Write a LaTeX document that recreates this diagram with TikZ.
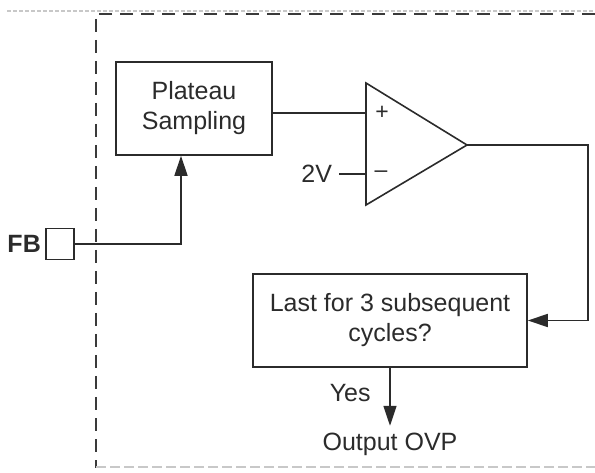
\documentclass[tikz,border=0pt]{standalone}
\usepackage{fontspec}
\setmainfont{Liberation Sans}
\usepackage{xcolor}
\usepackage{tikz}
\usetikzlibrary{arrows.meta,positioning}
\definecolor{ink}{HTML}{2B2B2B}
\definecolor{framegray}{HTML}{3A3A3A}
\definecolor{fadegray}{HTML}{C8C8C8}
\tikzset{
  arr/.style={-{Triangle[length=10pt,width=6.5pt]},line width=0.8pt,draw=ink},
  wire/.style={line width=0.8pt,draw=ink},
  box/.style={rectangle,draw=ink,line width=0.8pt,align=center,
    text=ink,font=\fontsize{12.5}{15}\selectfont},
  lbl/.style={text=ink,font=\fontsize{12.5}{15}\selectfont},
  sgn/.style={text=ink,font=\fontsize{11.5}{13}\selectfont},
  frm/.style={dash pattern=on 6.5pt off 4pt,line width=0.8pt,draw=framegray},
}

\begin{document}
\begin{tikzpicture}[x=0.5pt,y=0.5pt]
\useasboundingbox (0,0) rectangle (595,472);

% dashed border of the chip
\draw[fadegray,dash pattern=on 2pt off 1pt,line width=0.6pt] (7,461) -- (595,461);
\draw[frm] (595,458) -- (96,458) -- (96,4);
\draw[fadegray,dash pattern=on 5pt off 2pt,line width=0.8pt] (96,5) -- (595,5);

\node[box,minimum width=78pt,minimum height=46.5pt] (samp) at (194,363.5) {Plateau\\Sampling};
\node[box,minimum width=137pt,minimum height=46.5pt] (last) at (390,151.5) {Last for 3 subsequent\\cycles?};
\node[box,minimum width=14pt,minimum height=15.5pt,inner sep=0pt] (fbpin) at (60,228) {};
\node[lbl,font=\fontsize{12.5}{15}\selectfont\bfseries,inner sep=0pt,left=2pt of fbpin] (fblbl) {FB};

% comparator
\coordinate (cmpT) at (366,389);
\coordinate (cmpB) at (366,267);
\coordinate (cmpO) at (467,327);
\coordinate (cmpP) at (366,359);
\coordinate (cmpN) at (366,298);
\coordinate (turn) at (588,327);
\draw[wire] (cmpT) -- (cmpO) -- (cmpB) -- cycle;
\node[sgn] (plus) at (382,359) {+};
\node[sgn] (minus) at (381,298) {\textendash};
\node[lbl,left=13.5pt of cmpN] (vref) {2V};

\draw[wire] (samp.east |- cmpP) -- (cmpP);
\draw[wire] (vref) -- (cmpN);
\draw[arr] (cmpO) -- (turn) |- (last.east);
\draw[arr] (fbpin.east) -| ([xshift=-6.5pt]samp.south);
\node[lbl,below=29pt of last] (ovp) {Output OVP};
\draw[arr] (last) -- node[lbl,left=6pt,pos=0.43]{Yes} (ovp);
\end{tikzpicture}
\end{document}
